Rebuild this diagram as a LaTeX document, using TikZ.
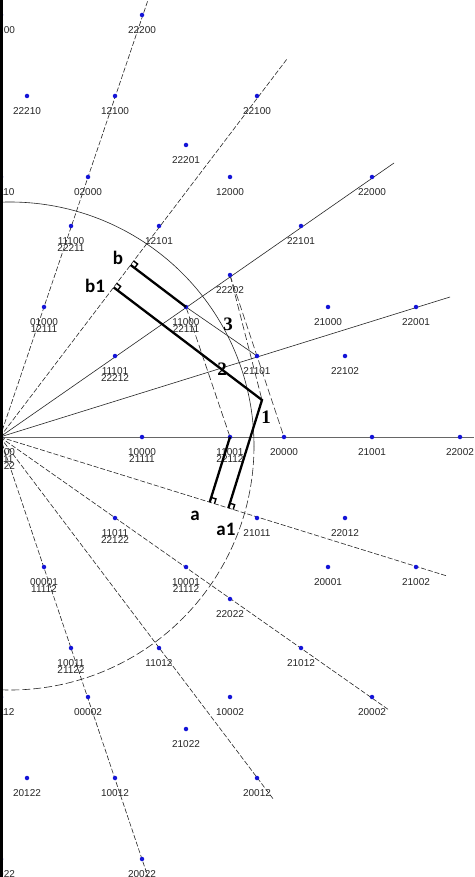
\documentclass[tikz,border=0pt]{standalone}
\usepackage{fontspec}
\setmainfont{Liberation Sans}
\newfontfamily\calb{Carlito}
\newfontfamily\timesf{Liberation Serif}
\usetikzlibrary{calc,backgrounds}
\definecolor{dotblue}{RGB}{20,20,215}
\newcommand\lp[4]{\node[dot] (p#1) at (#2,#3) {};\node[lbl] (t#1) at (#2,#3+15) {#4};}
\newcommand\lpp[5]{\node[dot] (p#1) at (#2,#3) {};\node[lbl] (t#1) at (#2,#3+15) {#1};\node[lbl] (u#1) at (#2,#3+22) {#5};}
\begin{document}
\begin{tikzpicture}[x=1pt,y=-1pt,
  dot/.style={circle,fill=dotblue,inner sep=0pt,minimum size=4.5pt},
  lbl/.style={inner sep=0pt,font=\fontsize{10}{10}\selectfont,text=black!85},
  ray/.style={line width=0.6pt,black!85},
  rdash/.style={ray,dash pattern=on 5pt off 2pt},
  inner/.style={line width=0.6pt,black!85,dash pattern=on 7pt off 3pt},
  thk/.style={line width=2.3pt,black},
  rmark/.style={line width=1.4pt,black},
  big/.style={font=\calb\bfseries\fontsize{19}{19}\selectfont,inner sep=0pt},
  num/.style={font=\timesf\bfseries\fontsize{19}{19}\selectfont,inner sep=0pt}]
\useasboundingbox (0,0) rectangle (474,877);
% points
\lp{12200}{1}{15}{12200}
\lp{22200}{142}{15}{22200}
\lp{22210}{27}{96}{22210}
\lp{12100}{115}{96}{12100}
\lp{22100}{257}{96}{22100}
\lp{22201}{186}{145}{22201}
\lp{12110}{1}{177}{12110}
\lp{02000}{88}{177}{02000}
\lp{12000}{230}{177}{12000}
\lp{22000}{372}{177}{22000}
\lpp{11100}{71}{226}{11100}{22211}
\lp{12101}{159}{226}{12101}
\lp{22101}{301}{226}{22101}
\lp{22202}{230}{275}{22202}
\lpp{01000}{44}{307}{01000}{12111}
\lpp{11000}{186}{307}{11000}{22111}
\lp{21000}{328}{307}{21000}
\lp{22001}{416}{307}{22001}
\lpp{11101}{115}{356}{11101}{22212}
\lp{21101}{257}{356}{21101}
\lp{22102}{345}{356}{22102}
\lpp{00000}{1}{437}{00000}{11111}
\node[lbl] at (1,466) {22222};
\lpp{10000}{142}{437}{10000}{21111}
\lpp{11001}{230}{437}{11001}{22112}
\lp{20000}{284}{437}{20000}
\lp{21001}{372}{437}{21001}
\lp{22002}{460}{437}{22002}
\lpp{11011}{115}{518}{11011}{22122}
\lp{21011}{257}{518}{21011}
\lp{22012}{345}{518}{22012}
\lpp{00001}{44}{567}{00001}{11112}
\lpp{10001}{186}{567}{10001}{21112}
\lp{20001}{328}{567}{20001}
\lp{21002}{416}{567}{21002}
\lp{22022}{230}{599}{22022}
\lpp{10011}{71}{648}{10011}{21122}
\lp{11012}{159}{648}{11012}
\lp{21012}{301}{648}{21012}
\lp{10112}{1}{697}{10112}
\lp{00002}{88}{697}{00002}
\lp{10002}{230}{697}{10002}
\lp{20002}{372}{697}{20002}
\lp{21022}{186}{729}{21022}
\lp{20122}{27}{778}{20122}
\lp{10012}{115}{778}{10012}
\lp{20012}{257}{778}{20012}
\lp{10022}{1}{859}{10022}
\lp{20022}{142}{859}{20022}
% free ends and construction points
\coordinate (O) at (0,437);
\coordinate (e1) at (148,0);
\coordinate (e2) at (287,59);
\coordinate (e3) at (394,163);
\coordinate (e4) at (450,297);
\coordinate (e5) at (474,437);
\coordinate (e6) at (447,576);
\coordinate (e7) at (389,710);
\coordinate (e8) at (274,800);
\coordinate (e9) at (148,877);
\coordinate (C) at (262,400);
\coordinate (a) at ($(O)!(p11001)!(e6)$);
\coordinate (a1) at ($(O)!(C)!(e6)$);
\coordinate (b) at ($(O)!(p11000)!(e2)$);
\coordinate (b1) at ($(O)!(C)!(e2)$);
\coordinate (arcC) at (10,446);
\begin{scope}[on background layer]
\fill[white] (0,0) rectangle (474,877);
\draw[rdash] (O) -- (e1);
\draw[rdash] (O) -- (e2);
\draw[ray] (O) -- (e3);
\draw[ray] (O) -- (e4);
\draw[ray,black!60] (O) -- (e5);
\draw[rdash] (O) -- (e6);
\draw[rdash] (O) -- (e7);
\draw[rdash] (O) -- (e8);
\draw[rdash] (O) -- (e9);
\draw[ray] ([shift={(-93:244)}]arcC) arc[start angle=-93,end angle=0,radius=244];
\draw[ray,dash pattern=on 8pt off 3pt] ([shift={(0:244)}]arcC) arc[start angle=0,end angle=93,radius=244];
\draw[inner] (p11000.center) -- (p11001.center);
\draw[inner] (p22202.center) -- (p20000.center);
\draw[inner] (p22202.center) -- (C);
\draw[ray] (p11000.center) -- (p21101.center);
\end{scope}
% thick construction
\draw[thk] (b) -- (p11000.center);
\draw[thk] (b1) -- (C) -- (a1);
\draw[thk] (p11001.center) -- (a);
\foreach \F/\E/\P in {a/e6/p11001.center, a1/e6/C, b/e2/p11000.center, b1/e2/C}{
  \coordinate (mE) at ($(\F)!5pt!(\E)$);
  \coordinate (mP) at ($(\F)!5pt!(\P)$);
  \draw[rmark] (mE) -- ($(mE)+(mP)-(\F)$) -- (mP);
}
\fill[black] (0,0) rectangle (2.5,877);
\node[big] (lb) at (118,258) {b};
\node[big] (lb1) at (95,286) {b1};
\node[big] (la) at (195,516) {a};
\node[big] (la1) at (226,529) {a1};
\node[num] (n1) at (266,417) {1};
\node[num] (n2) at (222,369) {2};
\node[num] (n3) at (228,324) {3};
\end{tikzpicture}
\end{document}
